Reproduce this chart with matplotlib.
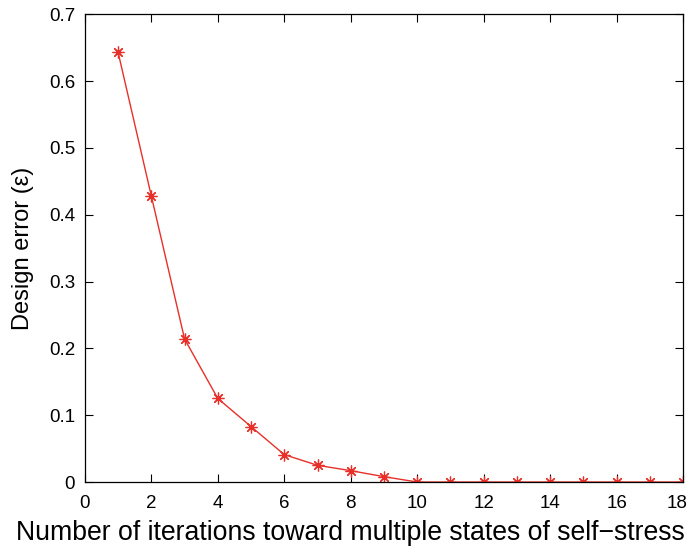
import matplotlib
matplotlib.use('Agg')
import matplotlib.pyplot as plt
from matplotlib.transforms import ScaledTranslation

iterations = [1, 2, 3, 4, 5, 6, 7, 8, 9, 10, 11, 12, 13, 14, 15, 16, 17, 18]
design_error = [0.643, 0.428, 0.214, 0.125, 0.083, 0.041, 0.025, 0.017, 0.008,
                0, 0, 0, 0, 0, 0, 0, 0, 0]
xticks = [0, 2, 4, 6, 8, 10, 12, 14, 16, 18]
yticks = [0, 0.1, 0.2, 0.3, 0.4, 0.5, 0.6, 0.7]
ytick_labels = ['0', '0.1', '0.2', '0.3', '0.4', '0.5', '0.6', '0.7']

plt.rcParams['font.family'] = ['Liberation Sans', 'DejaVu Sans']

fig = plt.figure(figsize=(6.9, 5.48), dpi=100)
ax = fig.add_axes([0.123, 0.1204, 0.867, 0.8536])

ax.plot(iterations, design_error, color='#e8302a', linewidth=1,
        marker=(8, 2, 0), markersize=8.5, markeredgewidth=0.9)

ax.set_xlim(0, 18)
ax.set_ylim(0, 0.7)
ax.set_xticks(xticks)
ax.set_yticks(yticks)
ax.set_yticklabels(ytick_labels)
ax.tick_params(direction='in', top=True, right=True, length=6, width=0.8,
               labelsize=13.5)
ax.tick_params(axis='x', pad=9)
ax.tick_params(axis='y', pad=7)
for s in ax.spines.values():
    s.set_linewidth(0.9)

# keep the last x tick label inside the figure
last = ax.get_xticklabels()[-1]
last.set_transform(last.get_transform() + ScaledTranslation(-4 / 72, 0, fig.dpi_scale_trans))

ax.set_xlabel('Number of iterations toward multiple states of self\u2212stress', fontsize=19.2)
ax.xaxis.set_label_coords(0.443, -0.108)
ax.xaxis.label.set_va('center')
ax.set_ylabel('Design error (\u03b5)', fontsize=17)
ax.yaxis.set_label_coords(-0.103, 0.5)
ax.yaxis.label.set_va('center')

fig.savefig('out.png', dpi=100)
